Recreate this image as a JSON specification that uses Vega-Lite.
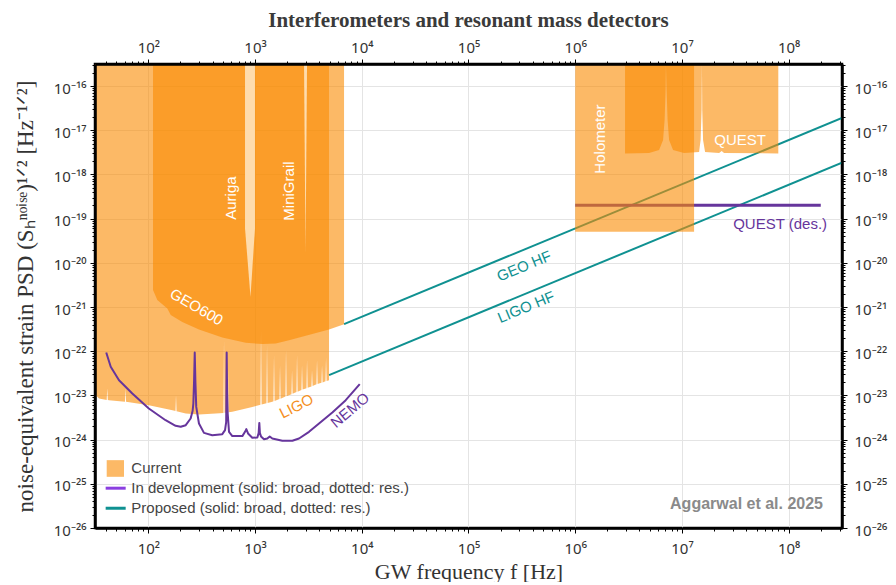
{
  "$schema": "https://vega.github.io/schema/vega-lite/v6.json",
  "width": 747,
  "height": 464,
  "autosize": {"type": "pad"},
  "padding": {"left": 14, "top": 10, "right": 4, "bottom": 0},
  "background": "white",
  "title": {"text": "Interferometers and resonant mass detectors", "font": "Liberation Serif", "fontSize": 21, "fontWeight": "bold", "color": "#3a3a3a", "anchor": "middle", "frame": "group", "offset": 9},
  "config": {
    "view": {"stroke": "#000000", "strokeWidth": 2.5},
    "axis": {"labelFont": "Noto Sans", "labelFontSize": 15, "labelColor": "#333333", "titleFont": "Liberation Serif", "titleFontSize": 22, "titleFontWeight": "normal", "titleColor": "#333333", "gridColor": "#e4e4e4", "gridWidth": 1, "labelOverlap": false, "labelFlush": false, "labelBound": false}
  },
  "datasets": {
    "areas": [
      {"g": "LIGO", "f": 31.6, "h": 1.05e-23, "h2": 3.2e-16},
      {"g": "LIGO", "f": 34.5, "h": 8.55e-24, "h2": 3.2e-16},
      {"g": "LIGO", "f": 40.7, "h": 7.9e-24, "h2": 3.2e-16},
      {"g": "LIGO", "f": 41.2, "h": 1.46e-23, "h2": 3.2e-16},
      {"g": "LIGO", "f": 41.7, "h": 7.85e-24, "h2": 3.2e-16},
      {"g": "LIGO", "f": 42.8, "h": 7.8e-24, "h2": 3.2e-16},
      {"g": "LIGO", "f": 60.4, "h": 7.2e-24, "h2": 3.2e-16},
      {"g": "LIGO", "f": 61.1, "h": 1.46e-23, "h2": 3.2e-16},
      {"g": "LIGO", "f": 61.8, "h": 7.2e-24, "h2": 3.2e-16},
      {"g": "LIGO", "f": 101, "h": 6.0e-24, "h2": 3.2e-16},
      {"g": "LIGO", "f": 168, "h": 4.6e-24, "h2": 3.2e-16},
      {"g": "LIGO", "f": 179.5, "h": 4.45e-24, "h2": 3.2e-16},
      {"g": "LIGO", "f": 181.6, "h": 1.01e-23, "h2": 3.2e-16},
      {"g": "LIGO", "f": 183.8, "h": 4.4e-24, "h2": 3.2e-16},
      {"g": "LIGO", "f": 224, "h": 3.9e-24, "h2": 3.2e-16},
      {"g": "LIGO", "f": 298, "h": 3.7e-24, "h2": 3.2e-16},
      {"g": "LIGO", "f": 428, "h": 3.9e-24, "h2": 3.2e-16},
      {"g": "LIGO", "f": 505.6, "h": 4.0e-24, "h2": 3.2e-16},
      {"g": "LIGO", "f": 511.7, "h": 1.78e-22, "h2": 3.2e-16},
      {"g": "LIGO", "f": 517.8, "h": 4.05e-24, "h2": 3.2e-16},
      {"g": "LIGO", "f": 551, "h": 4.1e-24, "h2": 3.2e-16},
      {"g": "LIGO", "f": 557.8, "h": 3.73e-23, "h2": 3.2e-16},
      {"g": "LIGO", "f": 564.5, "h": 4.15e-24, "h2": 3.2e-16},
      {"g": "LIGO", "f": 612, "h": 4.25e-24, "h2": 3.2e-16},
      {"g": "LIGO", "f": 942, "h": 5.5e-24, "h2": 3.2e-16},
      {"g": "LIGO", "f": 1123, "h": 6.15e-24, "h2": 3.2e-16},
      {"g": "LIGO", "f": 1137, "h": 3.0e-22, "h2": 3.2e-16},
      {"g": "LIGO", "f": 1151, "h": 6.2e-24, "h2": 3.2e-16},
      {"g": "LIGO", "f": 1279, "h": 6.65e-24, "h2": 3.2e-16},
      {"g": "LIGO", "f": 1294, "h": 1.37e-22, "h2": 3.2e-16},
      {"g": "LIGO", "f": 1310, "h": 6.7e-24, "h2": 3.2e-16},
      {"g": "LIGO", "f": 1451, "h": 7.2e-24, "h2": 3.2e-16},
      {"g": "LIGO", "f": 1487, "h": 7.35e-24, "h2": 3.2e-16},
      {"g": "LIGO", "f": 1505, "h": 8.2e-23, "h2": 3.2e-16},
      {"g": "LIGO", "f": 1523, "h": 7.45e-24, "h2": 3.2e-16},
      {"g": "LIGO", "f": 1693, "h": 8.3e-24, "h2": 3.2e-16},
      {"g": "LIGO", "f": 1713, "h": 4.85e-23, "h2": 3.2e-16},
      {"g": "LIGO", "f": 1733, "h": 8.4e-24, "h2": 3.2e-16},
      {"g": "LIGO", "f": 1927, "h": 9.4e-24, "h2": 3.2e-16},
      {"g": "LIGO", "f": 1950, "h": 1.06e-22, "h2": 3.2e-16},
      {"g": "LIGO", "f": 1974, "h": 9.55e-24, "h2": 3.2e-16},
      {"g": "LIGO", "f": 2080, "h": 1.01e-23, "h2": 3.2e-16},
      {"g": "LIGO", "f": 2194, "h": 1.07e-23, "h2": 3.2e-16},
      {"g": "LIGO", "f": 2220, "h": 3.73e-23, "h2": 3.2e-16},
      {"g": "LIGO", "f": 2247, "h": 1.09e-23, "h2": 3.2e-16},
      {"g": "LIGO", "f": 2444, "h": 1.19e-23, "h2": 3.2e-16},
      {"g": "LIGO", "f": 2473, "h": 8.2e-23, "h2": 3.2e-16},
      {"g": "LIGO", "f": 2503, "h": 1.21e-23, "h2": 3.2e-16},
      {"g": "LIGO", "f": 2721, "h": 1.33e-23, "h2": 3.2e-16},
      {"g": "LIGO", "f": 2754, "h": 4.85e-23, "h2": 3.2e-16},
      {"g": "LIGO", "f": 2787, "h": 1.36e-23, "h2": 3.2e-16},
      {"g": "LIGO", "f": 2985, "h": 1.44e-23, "h2": 3.2e-16},
      {"g": "LIGO", "f": 3033, "h": 1.46e-23, "h2": 3.2e-16},
      {"g": "LIGO", "f": 3069, "h": 6.3e-23, "h2": 3.2e-16},
      {"g": "LIGO", "f": 3106, "h": 1.5e-23, "h2": 3.2e-16},
      {"g": "LIGO", "f": 3376, "h": 1.6e-23, "h2": 3.2e-16},
      {"g": "LIGO", "f": 3417, "h": 3.73e-23, "h2": 3.2e-16},
      {"g": "LIGO", "f": 3458, "h": 1.63e-23, "h2": 3.2e-16},
      {"g": "LIGO", "f": 3762, "h": 1.78e-23, "h2": 3.2e-16},
      {"g": "LIGO", "f": 3807, "h": 6.3e-23, "h2": 3.2e-16},
      {"g": "LIGO", "f": 3853, "h": 1.81e-23, "h2": 3.2e-16},
      {"g": "LIGO", "f": 3975, "h": 1.87e-23, "h2": 3.2e-16},
      {"g": "LIGO", "f": 4191, "h": 1.93e-23, "h2": 3.2e-16},
      {"g": "LIGO", "f": 4241, "h": 4.85e-23, "h2": 3.2e-16},
      {"g": "LIGO", "f": 4292, "h": 1.97e-23, "h2": 3.2e-16},
      {"g": "LIGO", "f": 4569, "h": 2.08e-23, "h2": 3.2e-16},
      {"g": "LIGO", "f": 4624, "h": 7.0e-23, "h2": 3.2e-16},
      {"g": "LIGO", "f": 4679, "h": 2.12e-23, "h2": 3.2e-16},
      {"g": "LIGO", "f": 4933, "h": 2.2e-23, "h2": 3.2e-16},
      {"g": "GEO600", "f": 110.6, "h": 2.42e-21, "h2": 3.2e-16},
      {"g": "GEO600", "f": 121.3, "h": 1.44e-21, "h2": 3.2e-16},
      {"g": "GEO600", "f": 150.6, "h": 9.3e-22, "h2": 3.2e-16},
      {"g": "GEO600", "f": 162, "h": 6.6e-22, "h2": 3.2e-16},
      {"g": "GEO600", "f": 208, "h": 4.6e-22, "h2": 3.2e-16},
      {"g": "GEO600", "f": 298, "h": 3.1e-22, "h2": 3.2e-16},
      {"g": "GEO600", "f": 493, "h": 2.05e-22, "h2": 3.2e-16},
      {"g": "GEO600", "f": 817, "h": 1.55e-22, "h2": 3.2e-16},
      {"g": "GEO600", "f": 1169, "h": 1.45e-22, "h2": 3.2e-16},
      {"g": "GEO600", "f": 1561, "h": 1.5e-22, "h2": 3.2e-16},
      {"g": "GEO600", "f": 2080, "h": 1.78e-22, "h2": 3.2e-16},
      {"g": "GEO600", "f": 2985, "h": 2.23e-22, "h2": 3.2e-16},
      {"g": "GEO600", "f": 4933, "h": 3.1e-22, "h2": 3.2e-16},
      {"g": "GEO600", "f": 6820, "h": 4.1e-22, "h2": 3.2e-16},
      {"g": "Holometer", "f": 1000000, "h": 5.05e-20, "h2": 3.2e-16},
      {"g": "Holometer", "f": 13000000, "h": 5.05e-20, "h2": 3.2e-16},
      {"g": "QUEST", "f": 2930000, "h": 3.0e-18, "h2": 3.2e-16},
      {"g": "QUEST", "f": 4920000, "h": 3.05e-18, "h2": 3.2e-16},
      {"g": "QUEST", "f": 6110000, "h": 3.57e-18, "h2": 3.2e-16},
      {"g": "QUEST", "f": 6660000, "h": 6.02e-18, "h2": 3.2e-16},
      {"g": "QUEST", "f": 6880000, "h": 1.71e-17, "h2": 3.2e-16},
      {"g": "QUEST", "f": 7030000, "h": 8.15e-17, "h2": 3.2e-16},
      {"g": "QUEST", "f": 7080000, "h": 3.2e-16, "h2": 3.2e-16},
      {"g": "QUEST", "f": 7180000, "h": 8.15e-17, "h2": 3.2e-16},
      {"g": "QUEST", "f": 7340000, "h": 1.71e-17, "h2": 3.2e-16},
      {"g": "QUEST", "f": 7580000, "h": 6.02e-18, "h2": 3.2e-16},
      {"g": "QUEST", "f": 8260000, "h": 3.57e-18, "h2": 3.2e-16},
      {"g": "QUEST", "f": 10470000, "h": 3.05e-18, "h2": 3.2e-16},
      {"g": "QUEST", "f": 14480000, "h": 3.22e-18, "h2": 3.2e-16},
      {"g": "QUEST", "f": 14960000, "h": 6.02e-18, "h2": 3.2e-16},
      {"g": "QUEST", "f": 15290000, "h": 2.87e-17, "h2": 3.2e-16},
      {"g": "QUEST", "f": 15400000, "h": 3.2e-16, "h2": 3.2e-16},
      {"g": "QUEST", "f": 15500000, "h": 2.87e-17, "h2": 3.2e-16},
      {"g": "QUEST", "f": 15780000, "h": 6.02e-18, "h2": 3.2e-16},
      {"g": "QUEST", "f": 16480000, "h": 3.22e-18, "h2": 3.2e-16},
      {"g": "QUEST", "f": 22300000, "h": 3.05e-18, "h2": 3.2e-16},
      {"g": "QUEST", "f": 23600000, "h": 3.39e-18, "h2": 3.2e-16},
      {"g": "QUEST", "f": 24800000, "h": 3.05e-18, "h2": 3.2e-16},
      {"g": "QUEST", "f": 80000000, "h": 3.0e-18, "h2": 3.2e-16}
    ],
    "pale": [
      {"g": "Auriga", "f": 805, "h": 6.1e-20, "h2": 3.2e-16},
      {"g": "Auriga", "f": 906, "h": 1.68e-21, "h2": 3.2e-16},
      {"g": "Auriga", "f": 998, "h": 6.1e-20, "h2": 3.2e-16},
      {"g": "MiniGrail", "f": 2876, "h": 3.2e-16, "h2": 3.2e-16},
      {"g": "MiniGrail", "f": 2972, "h": 1.66e-20, "h2": 3.2e-16},
      {"g": "MiniGrail", "f": 3069, "h": 3.2e-16, "h2": 3.2e-16}
    ],
    "teal": [
      {"name": "GEO HF", "f": 6820, "h": 4.1e-22},
      {"name": "GEO HF", "f": 316227766, "h": 1.9e-17},
      {"name": "LIGO HF", "f": 4933, "h": 2.88e-23},
      {"name": "LIGO HF", "f": 316227766, "h": 1.85e-18}
    ],
    "questdes": [
      {"f": 1000000, "h": 2e-19},
      {"f": 200000000, "h": 2e-19}
    ],
    "nemo": [
      {"f": 40.3, "h": 9.4e-23}, {"f": 44.4, "h": 4.44e-23}, {"f": 53.1, "h": 2.2e-23}, {"f": 70.7, "h": 1.11e-23},
      {"f": 101, "h": 5.07e-24}, {"f": 145, "h": 2.75e-24}, {"f": 180, "h": 2.05e-24}, {"f": 201, "h": 1.95e-24},
      {"f": 224, "h": 2.12e-24}, {"f": 249, "h": 3.01e-24}, {"f": 260, "h": 4.5e-24}, {"f": 264, "h": 6.5e-24},
      {"f": 268, "h": 2.0e-23}, {"f": 272, "h": 9.4e-23}, {"f": 276, "h": 2.0e-23}, {"f": 281, "h": 5.5e-24},
      {"f": 298, "h": 2.32e-24}, {"f": 332, "h": 1.42e-24}, {"f": 397, "h": 1.26e-24}, {"f": 493, "h": 1.33e-24},
      {"f": 523, "h": 1.64e-24}, {"f": 536, "h": 2.5e-24}, {"f": 542, "h": 9.4e-23}, {"f": 547, "h": 1.2e-23},
      {"f": 554, "h": 3.9e-24}, {"f": 570, "h": 1.5e-24}, {"f": 612, "h": 1.2e-24}, {"f": 760, "h": 1.2e-24},
      {"f": 805, "h": 1.5e-24}, {"f": 828, "h": 1.73e-24}, {"f": 859, "h": 1.38e-24}, {"f": 942, "h": 1.1e-24},
      {"f": 1050, "h": 1.12e-24}, {"f": 1080, "h": 1.4e-24}, {"f": 1096, "h": 2.39e-24}, {"f": 1110, "h": 1.4e-24},
      {"f": 1137, "h": 1.18e-24}, {"f": 1213, "h": 1.02e-24}, {"f": 1302, "h": 1.06e-24}, {"f": 1372, "h": 1.18e-24},
      {"f": 1451, "h": 1.06e-24}, {"f": 1800, "h": 9.4e-25}, {"f": 2235, "h": 9.4e-25}, {"f": 2582, "h": 1.06e-24},
      {"f": 3203, "h": 1.5e-24}, {"f": 3975, "h": 2.32e-24}, {"f": 5297, "h": 4.12e-24}, {"f": 7071, "h": 7.8e-24},
      {"f": 9568, "h": 1.8e-23}
    ],
    "labels": [
      {"label": "Auriga", "f": 595, "h": 2.92e-19},
      {"label": "MiniGrail", "f": 2080, "h": 4.22e-19},
      {"label": "Holometer", "f": 1710000, "h": 6.34e-18},
      {"label": "GEO600", "f": 283, "h": 1.0e-21},
      {"label": "QUEST", "f": 35100000, "h": 6.18e-18},
      {"label": "LIGO", "f": 2446, "h": 5.7e-24},
      {"label": "NEMO", "f": 7762, "h": 4.64e-24},
      {"label": "QUEST (des.)", "f": 83200000, "h": 7.74e-20},
      {"label": "GEO HF", "f": 332000, "h": 8.45e-21},
      {"label": "LIGO HF", "f": 346000, "h": 1.0e-21},
      {"label": "Aggarwal et al. 2025", "f": 210000000, "h": 3.5e-26}
    ],
    "legendbox": [{"f": 40.7, "f2": 59.1, "h": 1.44e-25, "h2": 3.43e-25}],
    "legendlines": [
      {"item": "In development", "f": 39.8, "f2": 61.3, "h": 7.96e-26},
      {"item": "Proposed", "f": 39.8, "f2": 61.3, "h": 2.8e-26}
    ],
    "legendtext": [
      {"label": "Current", "f": 69.2, "h": 2.26e-25},
      {"label": "In development (solid: broad, dotted: res.)", "f": 69.2, "h": 7.96e-26},
      {"label": "Proposed (solid: broad, dotted: res.)", "f": 69.2, "h": 2.8e-26}
    ]
  },
  "encoding": {
    "x": {"field": "f", "type": "quantitative", "scale": {"type": "log", "domain": [31.6228, 316227766], "nice": false}, "axis": null},
    "y": {"field": "h", "type": "quantitative", "scale": {"type": "log", "domain": [1e-26, 3.16228e-16], "nice": false}, "axis": null}
  },
  "resolve": {"axis": {"x": "independent", "y": "independent"}},
  "layer": [
    {
      "data": {"name": "teal"},
      "mark": {"type": "line", "color": "#0f9191", "strokeWidth": 2, "clip": true},
      "encoding": {
        "x": {"field": "f", "type": "quantitative", "scale": {"type": "log", "domain": [31.6228, 316227766], "nice": false},
          "axis": {"orient": "bottom", "zindex": 1, "grid": false, "domain": true, "domainColor": "#000000", "domainWidth": 2.5, "ticks": true, "tickColor": "#000000", "tickWidth": 1, "tickSize": 5,
            "values": [100, 1000, 10000, 100000, 1000000, 10000000, 100000000],
            "labelExpr": "'10' + slice('⁰¹²³⁴⁵⁶⁷⁸⁹', round(log(datum.value)/LN10), round(log(datum.value)/LN10) + 1)",
            "labelPadding": 8, "title": "GW frequency f [Hz]", "titlePadding": 5}},
        "y": {"field": "h", "type": "quantitative", "scale": {"type": "log", "domain": [1e-26, 3.16228e-16], "nice": false},
          "axis": {"orient": "left", "zindex": 1, "grid": false, "domain": true, "domainColor": "#000000", "domainWidth": 2.5, "ticks": true, "tickColor": "#000000", "tickWidth": 1, "tickSize": 5,
            "values": [1e-26, 1e-25, 1e-24, 1e-23, 1e-22, 1e-21, 1e-20, 1e-19, 1e-18, 1e-17, 1e-16],
            "labelExpr": "'10⁻' + slice('⁰¹²³⁴⁵⁶⁷⁸⁹', floor(-round(log(datum.value)/LN10)/10), floor(-round(log(datum.value)/LN10)/10) + 1) + slice('⁰¹²³⁴⁵⁶⁷⁸⁹', (-round(log(datum.value)/LN10)) % 10, (-round(log(datum.value)/LN10)) % 10 + 1)",
            "labelPadding": 4, "labelOffset": 2,
            "title": "noise-equivalent strain PSD (Sₕⁿᵒⁱˢᵉ)¹ᐟ² [Hz⁻¹ᐟ²]", "titleFontSize": 23, "titlePadding": 16}},
        "detail": {"field": "name"}
      }
    },
    {
      "data": {"name": "questdes"},
      "mark": {"type": "line", "color": "#66359c", "strokeWidth": 3, "clip": true},
      "encoding": {
        "x": {"field": "f", "type": "quantitative", "scale": {"type": "log", "domain": [31.6228, 316227766], "nice": false},
          "axis": {"orient": "top", "zindex": 1, "grid": false, "domain": true, "domainColor": "#000000", "domainWidth": 2.5, "ticks": true, "tickColor": "#000000", "tickWidth": 1, "tickSize": 5,
            "values": [100, 1000, 10000, 100000, 1000000, 10000000, 100000000],
            "labelExpr": "'10' + slice('⁰¹²³⁴⁵⁶⁷⁸⁹', round(log(datum.value)/LN10), round(log(datum.value)/LN10) + 1)",
            "labelPadding": 4, "title": null}},
        "y": {"field": "h", "type": "quantitative", "scale": {"type": "log", "domain": [1e-26, 3.16228e-16], "nice": false},
          "axis": {"orient": "right", "zindex": 1, "grid": false, "domain": true, "domainColor": "#000000", "domainWidth": 2.5, "ticks": true, "tickColor": "#000000", "tickWidth": 1, "tickSize": 5,
            "values": [1e-26, 1e-25, 1e-24, 1e-23, 1e-22, 1e-21, 1e-20, 1e-19, 1e-18, 1e-17, 1e-16],
            "labelExpr": "'10⁻' + slice('⁰¹²³⁴⁵⁶⁷⁸⁹', floor(-round(log(datum.value)/LN10)/10), floor(-round(log(datum.value)/LN10)/10) + 1) + slice('⁰¹²³⁴⁵⁶⁷⁸⁹', (-round(log(datum.value)/LN10)) % 10, (-round(log(datum.value)/LN10)) % 10 + 1)",
            "labelPadding": 7, "labelOffset": 2, "title": null}}
      }
    },
    {
      "data": {"name": "areas"},
      "mark": {"type": "area", "color": "#FA8A00", "opacity": 0.6, "clip": true},
      "encoding": {
        "y2": {"field": "h2"},
        "detail": {"field": "g"}
      }
    },
    {
      "data": {"name": "pale"},
      "mark": {"type": "area", "color": "#FEDCAD", "opacity": 1, "clip": true},
      "encoding": {
        "y2": {"field": "h2"},
        "detail": {"field": "g"}
      }
    },
    {
      "data": {"name": "nemo"},
      "mark": {"type": "line", "color": "#66359c", "strokeWidth": 2, "strokeJoin": "round", "clip": true},
      "encoding": {
        "x": {"field": "f", "type": "quantitative", "scale": {"type": "log", "domain": [31.6228, 316227766], "nice": false},
          "axis": {"orient": "bottom", "zindex": 0, "grid": true, "domain": false, "ticks": false, "labels": false, "title": null,
            "values": [100, 1000, 10000, 100000, 1000000, 10000000, 100000000]}},
        "y": {"field": "h", "type": "quantitative", "scale": {"type": "log", "domain": [1e-26, 3.16228e-16], "nice": false},
          "axis": {"orient": "left", "zindex": 0, "grid": true, "domain": false, "ticks": false, "labels": false, "title": null,
            "values": [1e-25, 1e-24, 1e-23, 1e-22, 1e-21, 1e-20, 1e-19, 1e-18, 1e-17, 1e-16]}}
      }
    },
    {
      "data": {"name": "legendbox"},
      "mark": {"type": "rect", "color": "#FCB966"},
      "encoding": {
        "x": {"field": "f", "type": "quantitative", "scale": {"type": "log", "domain": [31.6228, 316227766], "nice": false},
          "axis": {"orient": "bottom", "zindex": 1, "grid": false, "domain": false, "ticks": true, "tickColor": "#000000", "tickWidth": 1, "tickSize": 3, "labels": false, "title": null,
            "values": [40,50,60,70,80,90,200,300,400,500,600,700,800,900,2000,3000,4000,5000,6000,7000,8000,9000,20000,30000,40000,50000,60000,70000,80000,90000,200000,300000,400000,500000,600000,700000,800000,900000,2000000,3000000,4000000,5000000,6000000,7000000,8000000,9000000,20000000,30000000,40000000,50000000,60000000,70000000,80000000,90000000,200000000,300000000]}},
        "y": {"field": "h", "type": "quantitative", "scale": {"type": "log", "domain": [1e-26, 3.16228e-16], "nice": false},
          "axis": {"orient": "left", "zindex": 1, "grid": false, "domain": false, "ticks": true, "tickColor": "#000000", "tickWidth": 1, "tickSize": 3, "labels": false, "title": null,
            "values": [2e-26,3e-26,4e-26,5e-26,6e-26,7e-26,8e-26,9e-26,2e-25,3e-25,4e-25,5e-25,6e-25,7e-25,8e-25,9e-25,2e-24,3e-24,4e-24,5e-24,6e-24,7e-24,8e-24,9e-24,2e-23,3e-23,4e-23,5e-23,6e-23,7e-23,8e-23,9e-23,2e-22,3e-22,4e-22,5e-22,6e-22,7e-22,8e-22,9e-22,2e-21,3e-21,4e-21,5e-21,6e-21,7e-21,8e-21,9e-21,2e-20,3e-20,4e-20,5e-20,6e-20,7e-20,8e-20,9e-20,2e-19,3e-19,4e-19,5e-19,6e-19,7e-19,8e-19,9e-19,2e-18,3e-18,4e-18,5e-18,6e-18,7e-18,8e-18,9e-18,2e-17,3e-17,4e-17,5e-17,6e-17,7e-17,8e-17,9e-17,2e-16,3e-16]}},
        "x2": {"field": "f2"},
        "y2": {"field": "h2"}
      }
    },
    {
      "data": {"name": "legendlines"},
      "transform": [{"filter": "datum.item == 'In development'"}],
      "mark": {"type": "rule", "color": "#8a3ee0", "strokeWidth": 3},
      "encoding": {
        "x": {"field": "f", "type": "quantitative", "scale": {"type": "log", "domain": [31.6228, 316227766], "nice": false},
          "axis": {"orient": "top", "zindex": 1, "grid": false, "domain": false, "ticks": true, "tickColor": "#000000", "tickWidth": 1, "tickSize": 3, "labels": false, "title": null,
            "values": [40,50,60,70,80,90,200,300,400,500,600,700,800,900,2000,3000,4000,5000,6000,7000,8000,9000,20000,30000,40000,50000,60000,70000,80000,90000,200000,300000,400000,500000,600000,700000,800000,900000,2000000,3000000,4000000,5000000,6000000,7000000,8000000,9000000,20000000,30000000,40000000,50000000,60000000,70000000,80000000,90000000,200000000,300000000]}},
        "y": {"field": "h", "type": "quantitative", "scale": {"type": "log", "domain": [1e-26, 3.16228e-16], "nice": false},
          "axis": {"orient": "right", "zindex": 1, "grid": false, "domain": false, "ticks": true, "tickColor": "#000000", "tickWidth": 1, "tickSize": 3, "labels": false, "title": null,
            "values": [2e-26,3e-26,4e-26,5e-26,6e-26,7e-26,8e-26,9e-26,2e-25,3e-25,4e-25,5e-25,6e-25,7e-25,8e-25,9e-25,2e-24,3e-24,4e-24,5e-24,6e-24,7e-24,8e-24,9e-24,2e-23,3e-23,4e-23,5e-23,6e-23,7e-23,8e-23,9e-23,2e-22,3e-22,4e-22,5e-22,6e-22,7e-22,8e-22,9e-22,2e-21,3e-21,4e-21,5e-21,6e-21,7e-21,8e-21,9e-21,2e-20,3e-20,4e-20,5e-20,6e-20,7e-20,8e-20,9e-20,2e-19,3e-19,4e-19,5e-19,6e-19,7e-19,8e-19,9e-19,2e-18,3e-18,4e-18,5e-18,6e-18,7e-18,8e-18,9e-18,2e-17,3e-17,4e-17,5e-17,6e-17,7e-17,8e-17,9e-17,2e-16,3e-16]}},
        "x2": {"field": "f2"}
      }
    },
    {
      "data": {"name": "legendlines"},
      "transform": [{"filter": "datum.item == 'Proposed'"}],
      "mark": {"type": "rule", "color": "#0f9191", "strokeWidth": 3},
      "encoding": {"x2": {"field": "f2"}}
    },
    {
      "data": {"name": "legendtext"},
      "mark": {"type": "text", "font": "Liberation Sans", "fontSize": 15, "color": "#444444", "align": "left", "baseline": "middle"},
      "encoding": {"text": {"field": "label"}}
    },
    {
      "data": {"name": "labels"},
      "transform": [{"filter": "indexof(['Auriga','MiniGrail','Holometer'], datum.label) >= 0"}],
      "mark": {"type": "text", "font": "Liberation Sans", "fontSize": 15, "color": "white", "angle": 270, "align": "center", "baseline": "middle"},
      "encoding": {"text": {"field": "label"}}
    },
    {
      "data": {"name": "labels"},
      "transform": [{"filter": "datum.label == 'GEO600'"}],
      "mark": {"type": "text", "font": "Liberation Sans", "fontSize": 15, "color": "white", "angle": 30, "align": "center", "baseline": "middle"},
      "encoding": {"text": {"field": "label"}}
    },
    {
      "data": {"name": "labels"},
      "transform": [{"filter": "datum.label == 'QUEST'"}],
      "mark": {"type": "text", "font": "Liberation Sans", "fontSize": 15, "color": "white", "align": "center", "baseline": "middle"},
      "encoding": {"text": {"field": "label"}}
    },
    {
      "data": {"name": "labels"},
      "transform": [{"filter": "datum.label == 'LIGO'"}],
      "mark": {"type": "text", "font": "Liberation Sans", "fontSize": 15, "color": "#F5901E", "angle": 333, "align": "center", "baseline": "middle"},
      "encoding": {"text": {"field": "label"}}
    },
    {
      "data": {"name": "labels"},
      "transform": [{"filter": "datum.label == 'NEMO'"}],
      "mark": {"type": "text", "font": "Liberation Sans", "fontSize": 15, "color": "#66359c", "angle": 320, "align": "center", "baseline": "middle"},
      "encoding": {"text": {"field": "label"}}
    },
    {
      "data": {"name": "labels"},
      "transform": [{"filter": "datum.label == 'QUEST (des.)'"}],
      "mark": {"type": "text", "font": "Liberation Sans", "fontSize": 15, "color": "#66359c", "align": "center", "baseline": "middle"},
      "encoding": {"text": {"field": "label"}}
    },
    {
      "data": {"name": "labels"},
      "transform": [{"filter": "datum.label == 'GEO HF' || datum.label == 'LIGO HF'"}],
      "mark": {"type": "text", "font": "Liberation Sans", "fontSize": 15, "color": "#0f9191", "angle": 337.5, "align": "center", "baseline": "middle"},
      "encoding": {"text": {"field": "label"}}
    },
    {
      "data": {"name": "labels"},
      "transform": [{"filter": "datum.label == 'Aggarwal et al. 2025'"}],
      "mark": {"type": "text", "font": "Liberation Sans", "fontSize": 16, "fontWeight": "bold", "color": "#8a8a8a", "align": "right", "baseline": "middle"},
      "encoding": {"text": {"field": "label"}}
    }
  ]
}
